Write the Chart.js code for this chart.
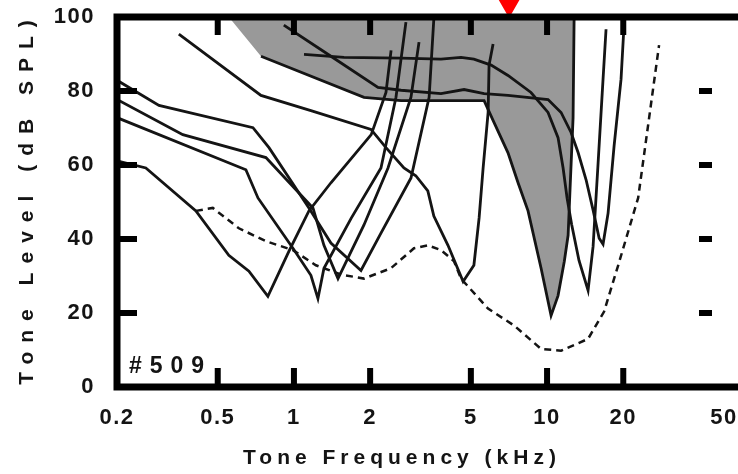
<!DOCTYPE html>
<html>
<head>
<meta charset="utf-8">
<script src="https://cdn.jsdelivr.net/npm/chart.js@4.4.1/dist/chart.umd.min.js"></script>
<style>
  html, body { margin: 0; padding: 0; background: #fff; }
</style>
</head>
<body>
<canvas id="c" width="738" height="474"></canvas>
<script>
// Axes
const xTickValues = [0.2, 0.5, 1, 2, 5, 10, 20, 50];
const xTickLabels = ['0.2', '0.5', '1', '2', '5', '10', '20', '50'];
const yTickValues = [0, 20, 40, 60, 80, 100];
const innerXTicks = [0.5, 1, 2, 5, 10, 20];
const innerYTicks = [20, 40, 60, 80];
const xTitle = 'Tone Frequency (kHz)';
const yTitle = 'Tone Level (dB SPL)';
const unitLabel = '#509';

// Tuning curves: frequency (kHz) / level (dB SPL)
const unit1Freq  = [0.2, 0.26, 0.41, 0.553, 0.664, 0.789, 0.956, 1.146, 1.40, 2.02, 2.31, 2.42];
const unit1Level = [61.1, 59.2, 47.6, 35.6, 31.3, 24.5, 36.7, 47.6, 55.2, 68.2, 79.6, 91.0];

const unit2Freq  = [0.2, 0.646, 0.721, 0.991, 1.167, 1.244, 1.314, 1.68, 2.207, 2.53, 2.77];
const unit2Level = [72.8, 58.7, 51.1, 37.5, 30.2, 23.9, 32.1, 45.5, 59.2, 78.3, 98.6];

const unit3Freq  = [0.2, 0.364, 0.775, 1.189, 1.314, 1.493, 1.891, 2.353, 2.9, 3.12];
const unit3Level = [77.7, 68.2, 62.0, 48.4, 38.3, 29.3, 43.8, 59.2, 78.3, 93.2];

const unit4Freq  = [0.2, 0.293, 0.689, 0.797, 1.146, 1.40, 1.84, 2.207, 2.9, 3.42, 3.57];
const unit4Level = [82.9, 76.1, 70.1, 64.7, 48.4, 38.9, 31.5, 41.6, 56.5, 78.3, 99.5];

const unit5Freq  = [0.351, 0.741, 1.167, 2.016, 2.31, 2.72, 3.03, 3.38, 3.57, 4.06, 4.66, 5.14, 5.39, 5.59, 5.85, 5.90, 6.12];
const unit5Level = [95.4, 78.8, 74.7, 69.6, 64.7, 59.2, 57.1, 53.0, 46.2, 38.3, 28.5, 32.9, 45.7, 59.2, 74.2, 87.0, 92.7];

// shaded unit (response area)
const unit6Freq  = [0.741, 1.891, 2.65, 3.81, 5.64, 6.17, 7.01, 7.68, 8.41, 9.47, 10.37, 11.05, 11.7, 12.11, 12.33, 12.67, 12.79];
const unit6Level = [89.4, 78.3, 77.4, 77.4, 77.4, 71.5, 63.3, 55.2, 47.6, 32.1, 19.3, 24.7, 34.0, 41.0, 53.8, 72.8, 100];
const shadeStartFreq = 0.553;
const shadeStartLevel = 100;

const unit7Freq  = [1.096, 1.577, 2.65, 3.81, 4.57, 5.14, 6.01, 7.01, 8.64, 10.09, 11.05, 11.57, 12.0, 12.5, 13.37, 14.52, 15.2, 15.91, 16.64, 17.1];
const unit7Level = [89.9, 89.1, 88.9, 88.6, 89.1, 88.6, 87.0, 84.2, 79.6, 74.2, 67.4, 59.2, 51.0, 44.0, 34.2, 26.1, 38.0, 60.6, 83.2, 96.7];

const unit8Freq  = [0.912, 1.40, 2.148, 2.65, 3.81, 4.70, 5.64, 7.01, 10.09, 11.36, 12.44, 13.27, 14.26, 15.2, 16.06, 16.64, 17.42, 18.4, 19.6, 20.1];
const unit8Level = [97.8, 89.4, 81.0, 80.2, 79.3, 80.4, 79.3, 78.8, 77.7, 74.2, 68.8, 63.3, 56.0, 47.8, 40.2, 38.6, 47.0, 65.2, 83.2, 96.7];

// behavioural threshold (dashed)
const thresholdFreq  = [0.41, 0.478, 0.606, 0.775, 0.991, 1.221, 1.533, 1.891, 2.417, 2.98, 3.38, 3.81, 4.29, 4.57, 5.845, 7.41, 9.47, 11.36, 14.52, 16.8, 19.1, 22.9, 27.7];
const thresholdLevel = [47.6, 48.4, 42.9, 39.4, 37.0, 32.9, 30.4, 29.3, 32.1, 37.5, 38.3, 37.0, 34.0, 29.3, 21.2, 16.6, 10.3, 9.8, 13.0, 20.4, 32.9, 51.1, 92.4];

// probe marker
const probeFreq = [7.08];
const probeLevel = [103];

const pts = (f, l) => f.map((x, i) => ({ x, y: l[i] }));

const INK = '#141414';
const FONT = '"Liberation Sans", Arial, Helvetica, sans-serif';

const curve = (f, l) => ({
  data: pts(f, l), showLine: true, borderColor: INK, borderWidth: 2.8,
  pointRadius: 0, tension: 0, fill: false
});

const datasets = [
  { data: pts(probeFreq, probeLevel), pointStyle: 'triangle', rotation: 180, pointRadius: 9,
    backgroundColor: '#ff0000', borderColor: '#ff0000', borderWidth: 3, clip: false, showLine: false },
  curve(unit1Freq, unit1Level),
  curve(unit2Freq, unit2Level),
  curve(unit3Freq, unit3Level),
  curve(unit4Freq, unit4Level),
  curve(unit5Freq, unit5Level),
  curve(unit6Freq, unit6Level),
  curve(unit7Freq, unit7Level),
  curve(unit8Freq, unit8Level),
  Object.assign(curve(thresholdFreq, thresholdLevel), { borderDash: [7, 5], borderWidth: 2.5 }),
  { data: pts([shadeStartFreq, ...unit6Freq], [shadeStartLevel, ...unit6Level]), showLine: true,
    borderWidth: 0, borderColor: 'rgba(0,0,0,0)', pointRadius: 0, fill: 'end',
    backgroundColor: '#999999', tension: 0 }
];

// frame (open on the right, as in the scan), inner ticks, titles and unit label
const framePlugin = {
  id: 'frame',
  beforeDraw(chart) {
    chart.ctx.letterSpacing = '1.5px';
  },
  afterDatasetsDraw(chart) {
    const { ctx, chartArea: a, scales: { x, y } } = chart;
    ctx.save();
    ctx.strokeStyle = '#000';
    ctx.lineWidth = 7;
    ctx.beginPath();
    ctx.moveTo(chart.width, a.top); ctx.lineTo(a.left, a.top);
    ctx.lineTo(a.left, a.bottom); ctx.lineTo(chart.width, a.bottom);
    ctx.stroke();
    ctx.lineWidth = 6;
    ctx.beginPath();
    innerXTicks.forEach(v => {
      const px = x.getPixelForValue(v);
      ctx.moveTo(px, a.bottom); ctx.lineTo(px, a.bottom - 19);
      ctx.moveTo(px, a.top); ctx.lineTo(px, a.top + 18);
    });
    innerYTicks.forEach(v => {
      const py = y.getPixelForValue(v);
      ctx.moveTo(a.left, py); ctx.lineTo(a.left + 20, py);
      ctx.moveTo(a.right - 12, py); ctx.lineTo(a.right - 25, py);
    });
    ctx.stroke();

    ctx.fillStyle = INK;
    ctx.font = 'bold 23px ' + FONT;
    ctx.textBaseline = 'middle';
    ctx.textAlign = 'left';
    ctx.letterSpacing = '8px';
    ctx.fillText(unitLabel, a.left + 12, a.bottom - 20);

    ctx.font = 'bold 21px ' + FONT;
    ctx.textAlign = 'center';
    ctx.letterSpacing = '5px';
    ctx.fillText(xTitle, 402, 458);
    ctx.translate(27, 198);
    ctx.rotate(-Math.PI / 2);
    ctx.letterSpacing = '9px';
    ctx.fillText(yTitle, 0, 0);
    ctx.restore();
  },
  afterDraw(chart) {
    chart.ctx.letterSpacing = '0px';
  }
};

new Chart(document.getElementById('c'), {
  type: 'scatter',
  data: { datasets },
  options: {
    responsive: false,
    animation: false,
    events: [],
    layout: { padding: { top: 17, right: 14, left: 0, bottom: 0 } },
    plugins: {
      legend: { display: false },
      tooltip: { enabled: false },
      filler: { drawTime: 'beforeDatasetsDraw' }
    },
    scales: {
      x: {
        type: 'logarithmic', min: 0.2, max: 50,
        grid: { display: false }, border: { display: false },
        afterBuildTicks: s => { s.ticks = xTickValues.map(v => ({ value: v })); },
        afterFit: s => { s.height = 87; s.paddingLeft = 0; s.paddingRight = 0; },
        ticks: {
          autoSkip: false, maxRotation: 0, minRotation: 0, padding: 10, color: INK,
          font: { family: FONT, size: 22, weight: 'bold' },
          callback: v => xTickLabels[xTickValues.indexOf(v)] ?? ''
        }
      },
      y: {
        min: 0, max: 100,
        grid: { display: false }, border: { display: false },
        afterBuildTicks: s => { s.ticks = yTickValues.map(v => ({ value: v })); },
        afterFit: s => { s.width = 117; s.paddingTop = 0; s.paddingBottom = 0; },
        ticks: {
          padding: 14, color: INK,
          font: { family: FONT, size: 22, weight: 'bold' }
        }
      }
    }
  },
  plugins: [framePlugin]
});
</script>
</body>
</html>
